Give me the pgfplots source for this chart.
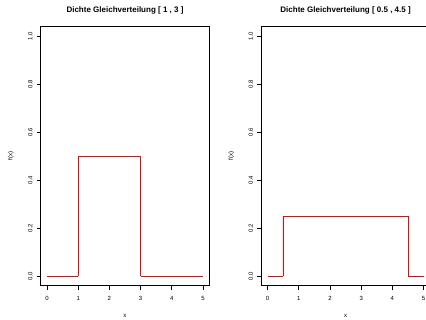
\documentclass[border=0pt]{standalone}
\usepackage{pgfplots}
\pgfplotsset{compat=1.18}
\usepackage{fontspec}
\setmainfont{Liberation Sans}

\pgfplotsset{
  dichte/.style={
    scale only axis,
    width=168.4pt, height=259.2pt,
    xmin=-0.2, xmax=5.2, ymin=-0.04, ymax=1.04,
    xtick={0,1,2,3,4,5},
    ytick={0,0.2,0.4,0.6,0.8,1.0},
    /pgf/number format/assume math mode=true,
    yticklabel style={/pgf/number format/fixed, /pgf/number format/fixed zerofill,
      /pgf/number format/precision=1},
    tick pos=left,
    tick align=outside,
    major tick length=4pt,
    axis line style={line width=0.8pt},
    every tick/.style={black, line width=0.8pt},
    tick label style={font=\fontsize{6}{7}\selectfont, inner sep=0pt},
    xticklabel style={anchor=center, yshift=-8.4pt},
    yticklabel style={anchor=center, xshift=-6.5pt, rotate=90},
    every axis title/.style={at={(axis description cs:0.5,1)}, anchor=center,
      yshift=16.4pt, font=\bfseries\fontsize{8}{9}\selectfont, inner sep=0pt},
    every axis x label/.style={at={(axis description cs:0.5,0)}, anchor=center,
      yshift=-30pt, font=\fontsize{6}{7}\selectfont, inner sep=0pt},
    every axis y label/.style={at={(axis description cs:0,0.5)}, xshift=-30pt,
      rotate=90, anchor=center, font=\fontsize{6}{7}\selectfont, inner sep=0pt},
    xlabel={x}, ylabel={f(x)},
    clip=false,
  },
  dens/.style={red, line width=0.8pt},
}

\begin{document}
\begin{tikzpicture}
\useasboundingbox (0,0) rectangle (426pt,320pt);
\clip (0,0) rectangle (426pt,320pt);

% density of the uniform distribution on [1,3]
\begin{axis}[dichte, at={(40.8pt,34.4pt)}, anchor=south west,
  title={Dichte Gleichverteilung [ 1 , 3 ]}]
  \addplot[dens] coordinates {(0,0) (1,0)};
  \addplot[dens] coordinates {(1,0) (1,0.5)};
  \addplot[dens] coordinates {(1,0.5) (3,0.5)};
  \addplot[dens] coordinates {(3,0.5) (3,0)};
  \addplot[dens] coordinates {(3,0) (5,0)};
\end{axis}

% density of the uniform distribution on [0.5,4.5]
\begin{axis}[dichte, at={(261.4pt,34.4pt)}, anchor=south west,
  title={Dichte Gleichverteilung [ 0.5 , 4.5 ]}]
  \addplot[dens] coordinates {(0,0) (0.5,0)};
  \addplot[dens] coordinates {(0.5,0) (0.5,0.25)};
  \addplot[dens] coordinates {(0.5,0.25) (4.5,0.25)};
  \addplot[dens] coordinates {(4.5,0.25) (4.5,0)};
  \addplot[dens] coordinates {(4.5,0) (5,0)};
\end{axis}
\end{tikzpicture}
\end{document}
